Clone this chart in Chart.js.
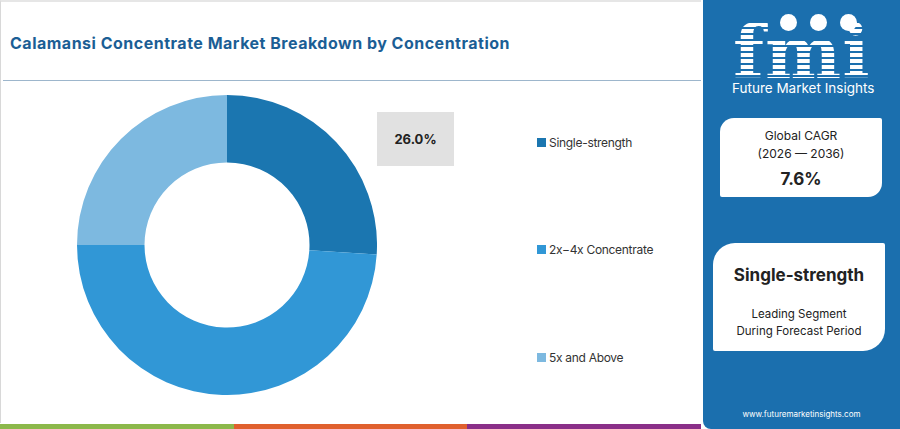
<!DOCTYPE html>
<html>
<head>
<meta charset="utf-8">
<script src="https://cdn.jsdelivr.net/npm/chart.js@4.4.1/dist/chart.umd.min.js"></script>
<style>
  html, body { margin:0; padding:0; width:900px; height:429px; overflow:hidden; background:#fff; font-family: Inter, "Open Sans", sans-serif; }
  #main { position:absolute; left:0; top:0; width:701px; height:423px; border-left:1px solid #d8d8d8; border-top:2px solid #e6e6e6; box-sizing:border-box; }
  #title { position:absolute; left:9px; top:31px; font-size:16px; font-weight:700; color:#1b5e95; letter-spacing:0.5px; white-space:nowrap; }
  #rule { position:absolute; left:2px; top:78px; width:698px; height:1px; background:#9db6cc; }
  #chartWrap { position:absolute; left:76px; top:93px; width:300px; height:300px; }
  #lbl { position:absolute; left:376px; top:110px; width:77px; height:54px; background:#e1e1e1; display:flex; align-items:center; justify-content:center; font-weight:700; font-size:13px; color:#222; }
  .leg { position:absolute; left:536px; font-size:12px; letter-spacing:-0.3px; color:#333; white-space:nowrap; display:flex; align-items:center; }
  .leg i { display:inline-block; width:9px; height:9px; margin-right:3px; }
  .stripe { position:absolute; top:424px; height:5px; }
  #side { position:absolute; left:703px; top:0; width:197px; height:429px; background:#1b6fae; border-bottom-left-radius:8px; }
  #logo { position:absolute; left:30px; top:17px; font-family:"DejaVu Serif", serif; font-weight:700; font-size:72px; line-height:72px; letter-spacing:1px;
          background:repeating-linear-gradient(to bottom, #fff 0px, #fff 4px, transparent 4px, transparent 6px); -webkit-background-clip:text; background-clip:text; color:transparent; }
  .globe { position:absolute; top:14px; width:17px; height:17px; border-radius:50%; background:#fff; }
  #fmiName { position:absolute; left:29px; top:80px; font-size:13.5px; color:#fff; white-space:nowrap; }
  .box { position:absolute; background:#fff; text-align:center; color:#222; }
  #cagr { left:17px; top:118px; width:162px; height:79px; border-radius:14px 2px 14px 2px; }
  #lead { left:10px; top:243px; width:172px; height:108px; border-radius:22px 2px 22px 2px; }
  .t { position:absolute; left:0; right:0; white-space:nowrap; }
  #url { position:absolute; left:0; right:0; top:409px; text-align:center; font-size:8px; color:#fff; }
</style>
</head>
<body>
<div id="main">
  <div id="title">Calamansi Concentrate Market Breakdown by Concentration</div>
  <div id="rule"></div>
  <div id="chartWrap"><canvas id="c"></canvas></div>
  <div id="lbl"></div>
  <div id="legend"></div>
</div>
<div class="stripe" style="left:0;width:234px;background:#8cb84b;"></div>
<div class="stripe" style="left:234px;width:233px;background:#e0602e;"></div>
<div class="stripe" style="left:467px;width:234px;background:#8a2f88;"></div>
<div id="side">
  <div id="logo">fmi</div>
  <div class="globe" style="left:77px;"></div>
  <div class="globe" style="left:107px;"></div>
  <div class="globe" style="left:137px;"></div>
  <div id="fmiName">Future Market Insights</div>
  <div class="box" id="cagr">
    <div class="t" style="top:10px;font-size:12px;">Global CAGR</div>
    <div class="t" style="top:28px;font-size:12px;">(2026 — 2036)</div>
    <div class="t" style="top:51px;font-size:17px;font-weight:700;">7.6%</div>
  </div>
  <div class="box" id="lead">
    <div class="t" style="top:22px;font-size:17px;font-weight:700;">Single-strength</div>
    <div class="t" style="top:64px;font-size:11.5px;">Leading Segment</div>
    <div class="t" style="top:81px;font-size:11.5px;">During Forecast Period</div>
  </div>
  <div id="url">www.futuremarketinsights.com</div>
</div>
<script>
const categories = ["Single-strength", "2x\u22124x Concentrate", "5x and Above"];
const shares = [26, 49, 25];
const colors = ["#1b76b0", "#3197d6", "#7db9e0"];
const legendTops = [133, 240, 348];

new Chart(document.getElementById('c'), {
  type: 'doughnut',
  data: { labels: categories, datasets: [{ data: shares, backgroundColor: colors, borderWidth: 0 }] },
  options: {
    responsive: true, maintainAspectRatio: false, animation: false,
    cutout: '55%',
    layout: { padding: 0 },
    plugins: { legend: { display: false }, tooltip: { enabled: false } }
  }
});

document.getElementById('lbl').textContent = shares[0].toFixed(1) + '%';
const leg = document.getElementById('legend');
categories.forEach((c, i) => {
  const d = document.createElement('div');
  d.className = 'leg';
  d.style.top = legendTops[i] + 'px';
  d.innerHTML = '<i style="background:' + colors[i] + '"></i>';
  d.appendChild(document.createTextNode(c));
  leg.appendChild(d);
});
</script>
</body>
</html>
